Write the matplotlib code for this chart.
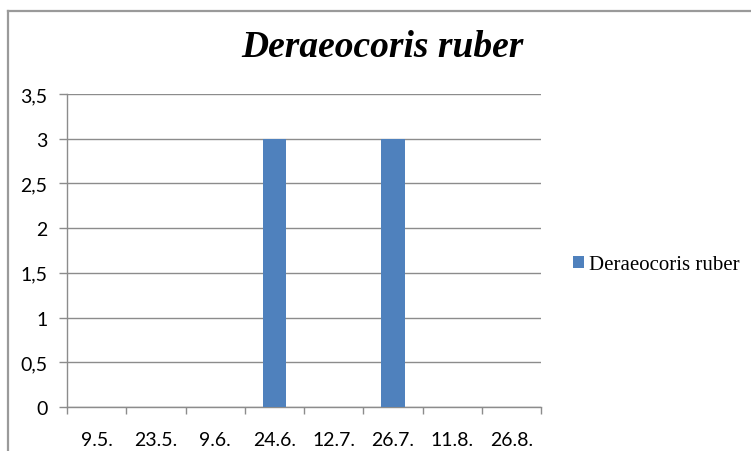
import matplotlib
matplotlib.use("Agg")
import matplotlib.pyplot as plt
from matplotlib.lines import Line2D
from matplotlib.patches import Patch
from matplotlib.ticker import FuncFormatter, FixedLocator

# Data
dates = ["9.5.", "23.5.", "9.6.", "24.6.", "12.7.", "26.7.", "11.8.", "26.8."]
counts = [0, 0, 0, 3, 0, 3, 0, 0]
series_name = "Deraeocoris ruber"
y_ticks = [0, 0.5, 1, 1.5, 2, 2.5, 3, 3.5]

bar_color = "#4F81BD"
grid_color = "#8C8C8C"

fig = plt.figure(figsize=(7.51, 4.52), dpi=100)
fig.patch.set_facecolor("white")

# Chart-area frame (top and left edges visible)
fig.add_artist(Line2D([8 / 751, 1.0], [1 - 12 / 452, 1 - 12 / 452],
                      transform=fig.transFigure, color="#9A9A9A", lw=1.6))
fig.add_artist(Line2D([8 / 751, 8 / 751], [0.0, 1 - 12 / 452],
                      transform=fig.transFigure, color="#9A9A9A", lw=1.6))

ax = fig.add_axes([67 / 751, 44 / 452, 474 / 751, 313 / 452])
x = list(range(len(dates)))
ax.bar(x, counts, width=0.4, color=bar_color, zorder=3, label=series_name)

ax.set_xlim(-0.5, len(dates) - 0.5)
ax.set_ylim(0, 3.5)

# y axis
ax.yaxis.set_major_locator(FixedLocator(y_ticks))
ax.yaxis.set_major_formatter(FuncFormatter(lambda v, p: (f"{v:g}").replace(".", ",")))
ax.tick_params(axis="y", length=6, width=1, color=grid_color, pad=8,
               labelsize=14, labelcolor="black")
ax.grid(axis="y", color=grid_color, lw=1, zorder=0)

# x axis: tick marks at category boundaries, labels at centres
ax.set_xticks([i - 0.5 for i in range(len(dates) + 1)])
ax.set_xticklabels([])
ax.set_xticks(x, minor=True)
ax.set_xticklabels(dates, minor=True)
ax.tick_params(axis="x", which="major", length=5, width=1, color=grid_color, direction="out")
ax.tick_params(axis="x", which="minor", length=0, pad=17, labelsize=14, labelcolor="black")

for lab in ax.get_xticklabels(minor=True) + ax.get_yticklabels():
    lab.set_fontfamily("Lato")

for side in ["top", "right"]:
    ax.spines[side].set_visible(False)
for side in ["left", "bottom"]:
    ax.spines[side].set_color(grid_color)
    ax.spines[side].set_linewidth(1)

fig.text(382 / 751, 1 - 48 / 452, series_name, ha="center", va="center",
         fontsize=27, fontweight="bold", fontstyle="italic", family="Liberation Serif")

handle = Patch(facecolor=bar_color, edgecolor="none")
fig.legend([handle], [series_name], loc="center left",
           bbox_to_anchor=(563 / 751, 1 - 266 / 452), frameon=False,
           prop={"family": "Liberation Serif", "size": 15},
           handlelength=0.5, handleheight=0.5, handletextpad=0.25, borderpad=0)

fig.savefig("out.png", dpi=100)
